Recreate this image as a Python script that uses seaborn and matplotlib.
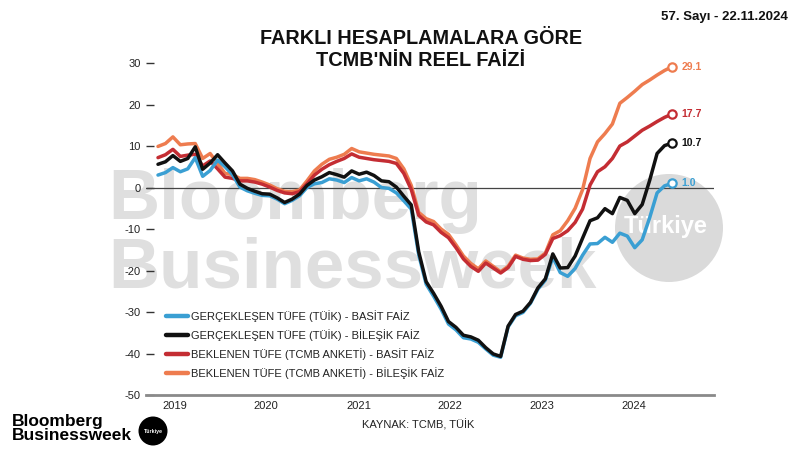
import matplotlib
matplotlib.use("Agg")
import matplotlib.pyplot as plt
import numpy as np
import pandas as pd
import seaborn as sns
from matplotlib.lines import Line2D
from matplotlib.patches import Ellipse

# ---------------- data (monthly, Jan 2019 .. Oct 2024) ----------------
month_idx = list(range(70))

blue_basit_tuik = [
    3.0, 3.6, 4.8, 3.8, 4.5, 7.2, 2.7, 4.1, 6.6, 5.0, 3.1, 0.1,
    -0.8, -1.4, -1.9, -2.0, -2.8, -3.9, -3.1, -2.0, 0.0, 0.9, 1.2, 2.1,
    1.8, 1.2, 2.4, 1.6, 2.1, 1.3, 0.0, -0.2, -1.3, -3.2, -5.2, -16.2,
    -23.3, -26.2, -29.3, -32.9, -34.3, -36.2, -36.5, -37.3, -38.9, -40.4, -40.9, -33.6,
    -30.9, -30.1, -27.9, -24.5, -22.3, -16.8, -20.5, -21.4, -19.5, -16.3, -13.6, -13.5,
    -12.0, -13.2, -11.0, -11.7, -14.5, -12.6, -7.3, -1.3, 0.4, 1.0]

black_bilesik_tuik = [
    5.6, 6.2, 7.7, 6.3, 7.0, 9.8, 4.4, 5.9, 7.9, 5.9, 4.0, 0.8,
    -0.2, -0.9, -1.5, -1.6, -2.5, -3.6, -2.8, -1.6, 0.5, 1.8, 2.6, 3.6,
    3.1, 2.5, 4.0, 3.2, 3.7, 2.9, 1.6, 1.4, 0.1, -2.1, -4.2, -15.5,
    -22.7, -25.5, -28.6, -32.3, -33.7, -35.6, -36.0, -36.8, -38.6, -40.1, -40.7, -33.4,
    -30.6, -29.8, -27.7, -24.2, -22.0, -16.0, -19.4, -19.3, -16.5, -12.2, -8.0, -7.3,
    -5.1, -6.3, -2.4, -3.1, -6.3, -4.1, 1.7, 8.2, 10.1, 10.7]

red_basit_beklenen = [
    7.2, 7.9, 9.2, 7.5, 7.8, 8.0, 5.2, 6.4, 4.5, 2.5, 2.2, 1.6,
    1.6, 1.3, 0.8, 0.1, -0.7, -1.3, -1.5, -1.0, 0.9, 3.0, 4.4, 5.5,
    6.3, 7.0, 8.1, 7.3, 7.0, 6.7, 6.5, 6.3, 5.8, 3.4, -0.5, -6.7,
    -8.3, -9.0, -10.8, -12.1, -14.5, -17.2, -19.0, -20.2, -18.2, -19.4, -20.6, -19.3,
    -16.6, -17.3, -17.6, -17.5, -16.1, -12.3, -11.6, -10.4, -8.4, -5.2, 0.6, 3.8,
    5.0, 7.0, 10.0, 11.0, 12.4, 13.8, 14.8, 15.9, 16.9, 17.7]

orange_bilesik_beklenen = [
    9.9, 10.6, 12.2, 10.3, 10.5, 10.6, 7.0, 8.2, 5.8, 3.4, 3.1, 2.2,
    2.2, 1.9, 1.3, 0.6, -0.3, -0.9, -1.0, -0.6, 1.6, 4.0, 5.6, 6.8,
    7.3, 8.0, 9.4, 8.6, 8.3, 8.0, 7.8, 7.6, 7.0, 4.5, 0.5, -6.0,
    -7.5, -8.2, -10.0, -11.3, -13.8, -16.5, -18.3, -19.6, -17.7, -19.0, -20.3, -19.0,
    -16.3, -17.0, -17.3, -17.2, -15.8, -11.4, -10.4, -8.0, -5.0, -0.5, 7.0, 11.0,
    13.0, 15.3, 20.3, 21.7, 23.2, 24.8, 25.9, 27.1, 28.2, 29.1]

series_names = [
    "GERÇEKLEŞEN TÜFE (TÜİK) - BASİT FAİZ",
    "GERÇEKLEŞEN TÜFE (TÜİK) - BİLEŞİK FAİZ",
    "BEKLENEN TÜFE (TCMB ANKETİ) - BASİT FAİZ",
    "BEKLENEN TÜFE (TCMB ANKETİ) - BİLEŞİK FAİZ",
]
series_values = [blue_basit_tuik, black_bilesik_tuik, red_basit_beklenen, orange_bilesik_beklenen]
series_colors = ["#3A9FD3", "#111111", "#C42D33", "#EE7C4F"]

year_labels = ["2019", "2020", "2021", "2022", "2023", "2024"]
year_tick_pos = [2.2, 14.5, 26.9, 39.2, 51.6, 63.9]
y_ticks = [30, 20, 10, 0, -10, -20, -30, -40, -50]

# ---------------- styling ----------------
sns.set_theme(style="white")
plt.rcParams["font.family"] = ["Liberation Sans", "DejaVu Sans"]
plt.rcParams["axes.unicode_minus"] = False

W, H = 800, 450
fig = plt.figure(figsize=(8, 4.5), dpi=100)
fig.patch.set_facecolor("white")


def fx(px):
    return px / W


def fy(py):
    return 1 - py / H


ax = fig.add_axes([fx(146), fy(395), fx(714) - fx(146), (395 - 56.8) / H])
ax.set_facecolor("white")

# long table for seaborn
rows = []
for name, vals in zip(series_names, series_values):
    for m, v in zip(month_idx, vals):
        rows.append({"month": m, "value": v, "series": name})
df = pd.DataFrame(rows)

palette = dict(zip(series_names, series_colors))
draw_order = [series_names[3], series_names[2], series_names[0], series_names[1]]
sns.lineplot(data=df, x="month", y="value", hue="series", hue_order=draw_order,
             palette=palette, linewidth=2.5, legend=False, ax=ax, zorder=3)

# zero line
ax.axhline(0, color="#444444", lw=0.9, zorder=1.5)

# end markers + labels
for name, vals, col in zip(series_names, series_values, series_colors):
    sns.scatterplot(x=[month_idx[-1]], y=[vals[-1]], ax=ax, s=36,
                    facecolor="white", edgecolor=col, linewidth=1.6,
                    legend=False, zorder=5)
    ax.annotate(f"{vals[-1]:.1f}", (month_idx[-1], vals[-1]), xytext=(7, 0),
                textcoords="offset points", ha="left", va="center",
                fontsize=7.5, fontweight="bold", color=col, zorder=6)

# axes
ax.set_xlim(-1.61, 74.64)
ax.set_ylim(-50, 31.5)
ax.set_yticks(y_ticks)
ax.set_yticklabels([str(t) for t in y_ticks])
ax.set_xticks(year_tick_pos)
ax.set_xticklabels(year_labels)
ax.set_xlabel("")
ax.set_ylabel("")
for s in ["left", "right", "top"]:
    ax.spines[s].set_visible(False)
ax.spines["bottom"].set_color("#8a8a8a")
ax.spines["bottom"].set_linewidth(2)
ax.tick_params(axis="y", direction="in", length=6, width=1, color="#333333",
               labelsize=8, labelcolor="#222222", pad=4, left=True)
ax.tick_params(axis="x", length=0, labelsize=8, labelcolor="#222222", pad=4)

# legend
handles = [Line2D([0], [0], color=c, lw=3.2) for c in series_colors]
leg = ax.legend(handles, series_names, loc="upper left",
                bbox_to_anchor=(fx(166), fy(310)), bbox_transform=fig.transFigure,
                frameon=False, fontsize=8, handlelength=2.0, handletextpad=0.25,
                labelspacing=0.64, borderpad=0, borderaxespad=0)
for t in leg.get_texts():
    t.set_color("#222222")

# watermark
wm_col = "#DFDFDF"
ax.text(fx(108), fy(219), "Bloomberg", transform=fig.transFigure, fontsize=51,
        fontweight="bold", color=wm_col, ha="left", va="baseline", zorder=0.5)
ax.text(fx(108), fy(287), "Businessweek", transform=fig.transFigure, fontsize=51,
        fontweight="bold", color=wm_col, ha="left", va="baseline", zorder=0.5)
circ = Ellipse((fx(669), fy(228)), 108 / W, 108 / H, transform=fig.transFigure,
               facecolor="#DADADA", edgecolor="none", zorder=0.4, clip_on=False)
ax.add_artist(circ)
ax.text(fx(666), fy(226), "Türkiye", transform=fig.transFigure, fontsize=17,
        fontweight="bold", color="white", ha="center", va="center", zorder=0.6)

# titles
fig.text(fx(421), fy(38), "FARKLI HESAPLAMALARA GÖRE", ha="center", va="center",
         fontsize=14.3, fontweight="bold", color="#111111")
fig.text(fx(421), fy(61), "TCMB'NİN REEL FAİZİ", ha="center", va="center",
         fontsize=14.3, fontweight="bold", color="#111111")
fig.text(fx(788), fy(17), "57. Sayı - 22.11.2024", ha="right", va="center",
         fontsize=9.5, fontweight="bold", color="#111111")

# source
fig.text(fx(362), fy(425), "KAYNAK: TCMB, TÜİK", ha="left", va="center",
         fontsize=8, color="#222222")

# bottom-left logo
fig.text(fx(12), fy(426), "Bloomberg", ha="left", va="baseline", fontsize=12.5,
         fontweight="bold", color="black")
fig.text(fx(12), fy(440), "Businessweek", ha="left", va="baseline", fontsize=12.5,
         fontweight="bold", color="black")
logo = Ellipse((fx(153), fy(431)), 29 / W, 29 / H, transform=fig.transFigure,
               facecolor="black", edgecolor="none")
fig.add_artist(logo)
fig.text(fx(153), fy(431), "Türkiye", ha="center", va="center", fontsize=3.8,
         fontweight="bold", color="white")

fig.savefig("out.png", dpi=100, facecolor="white")
